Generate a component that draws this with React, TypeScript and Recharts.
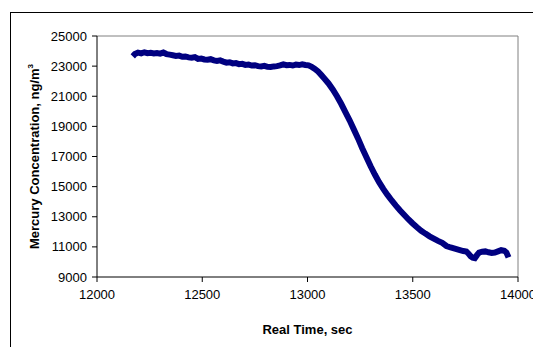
import { Line, LineChart, ReferenceLine, XAxis, YAxis } from 'recharts';

const times = [
  12170, 12180, 12195, 12210, 12225, 12240, 12255, 12270, 12285, 12300, 12315, 12330, 12345, 12360, 12375, 12390,
  12405, 12420, 12435, 12450, 12465, 12480, 12495, 12510, 12525, 12540, 12555, 12570, 12585, 12600, 12615, 12630,
  12645, 12660, 12675, 12690, 12705, 12720, 12735, 12750, 12765, 12780, 12795, 12810, 12825, 12840, 12855, 12870,
  12885, 12900, 12915, 12930, 12945, 12960, 12975, 12990, 13005, 13020, 13035, 13050, 13065, 13080, 13100, 13120,
  13140, 13160, 13180, 13200, 13220, 13240, 13260, 13280, 13300, 13320, 13340, 13360, 13380, 13400, 13420, 13440,
  13460, 13480, 13500, 13520, 13540, 13560, 13580, 13600, 13620, 13640, 13660, 13680, 13700, 13720, 13740, 13755,
  13765, 13775, 13785, 13795, 13805, 13815, 13830, 13845, 13860, 13875, 13890, 13905, 13920, 13935, 13945, 13955,
];

const mercury = [
  23650, 23800, 23900, 23850, 23920, 23860, 23880, 23840, 23870, 23830, 23900, 23800, 23760, 23720, 23680, 23700,
  23620, 23640, 23580, 23560, 23600, 23480, 23500, 23440, 23420, 23460, 23380, 23350, 23380, 23300, 23230, 23260,
  23180, 23200, 23130, 23150, 23080, 23100, 23040, 23060, 23000, 22980, 23020, 22950, 22940, 22980, 23000, 23050,
  23120, 23060, 23080, 23040, 23100, 23070, 23120, 23080, 23050, 22950, 22820, 22650, 22420, 22180, 21850, 21450,
  21000, 20500, 19950, 19400, 18800, 18200, 17550, 16950, 16350, 15800, 15300, 14850, 14450, 14080, 13740, 13420,
  13120, 12820, 12550, 12300, 12070, 11880, 11700, 11550, 11400, 11270, 11060, 10960, 10880, 10800, 10720, 10690,
  10550, 10380, 10280, 10250, 10450, 10620, 10680, 10700, 10640, 10600, 10620, 10700, 10780, 10740, 10620, 10300,
];

const xTicks = [12000, 12500, 13000, 13500, 14000];
const yTicks = [9000, 11000, 13000, 15000, 17000, 19000, 21000, 23000, 25000];

const data = times.map((t, i) => ({ t, hg: mercury[i] }));

const font = '"Liberation Sans", Arial, sans-serif';

function YTitle({ viewBox }: { viewBox?: { x: number; y: number; width: number; height: number } }) {
  const cy = viewBox ? viewBox.y + viewBox.height / 2 : 156;
  return (
    <text
      x={39}
      y={cy}
      transform={`rotate(-90, 39, ${cy})`}
      textAnchor="middle"
      fontFamily={font}
      fontSize={13}
      fontWeight="bold"
      fill="#000"
    >
      Mercury Concentration, ng/m
      <tspan fontSize={8} dy={-6}>3</tspan>
    </text>
  );
}

export default function App() {
  return (
    <div style={{ position: 'absolute', left: 0, top: 0, width: 533, height: 347, overflow: 'hidden', background: '#fff' }}>
      <div
        style={{
          position: 'absolute',
          left: 10,
          top: 12,
          width: 600,
          height: 400,
          borderLeft: '1.5px solid #000',
          borderTop: '1.5px solid #000',
        }}
      />
      <div style={{ position: 'absolute', left: 0, top: 0 }}>
        <LineChart width={533} height={347} data={data} margin={{ top: 36, right: 15, bottom: 40, left: 37 }}>
          <ReferenceLine y={25000} stroke="#808080" strokeWidth={1} />
          <ReferenceLine x={14000} stroke="#808080" strokeWidth={1} />
          <XAxis
            type="number"
            dataKey="t"
            domain={[12000, 14000]}
            ticks={xTicks}
            interval={0}
            height={30}
            tickSize={5}
            tickMargin={8}
            stroke="#000"
            tick={{ fill: '#000', fontSize: 13, fontFamily: font }}
            label={{ value: 'Real Time, sec', position: 'bottom', offset: 18, fill: '#000', fontSize: 13, fontWeight: 'bold', fontFamily: font }}
          />
          <YAxis
            type="number"
            dataKey="hg"
            domain={[9000, 25000]}
            ticks={yTicks}
            interval={0}
            width={60}
            tickSize={5}
            tickMargin={5}
            stroke="#000"
            tick={{ fill: '#000', fontSize: 13, fontFamily: font }}
            label={<YTitle />}
          />
          <Line
            type="linear"
            dataKey="hg"
            stroke="#000080"
            strokeWidth={6}
            dot={false}
            isAnimationActive={false}
          />
        </LineChart>
      </div>
    </div>
  );
}
